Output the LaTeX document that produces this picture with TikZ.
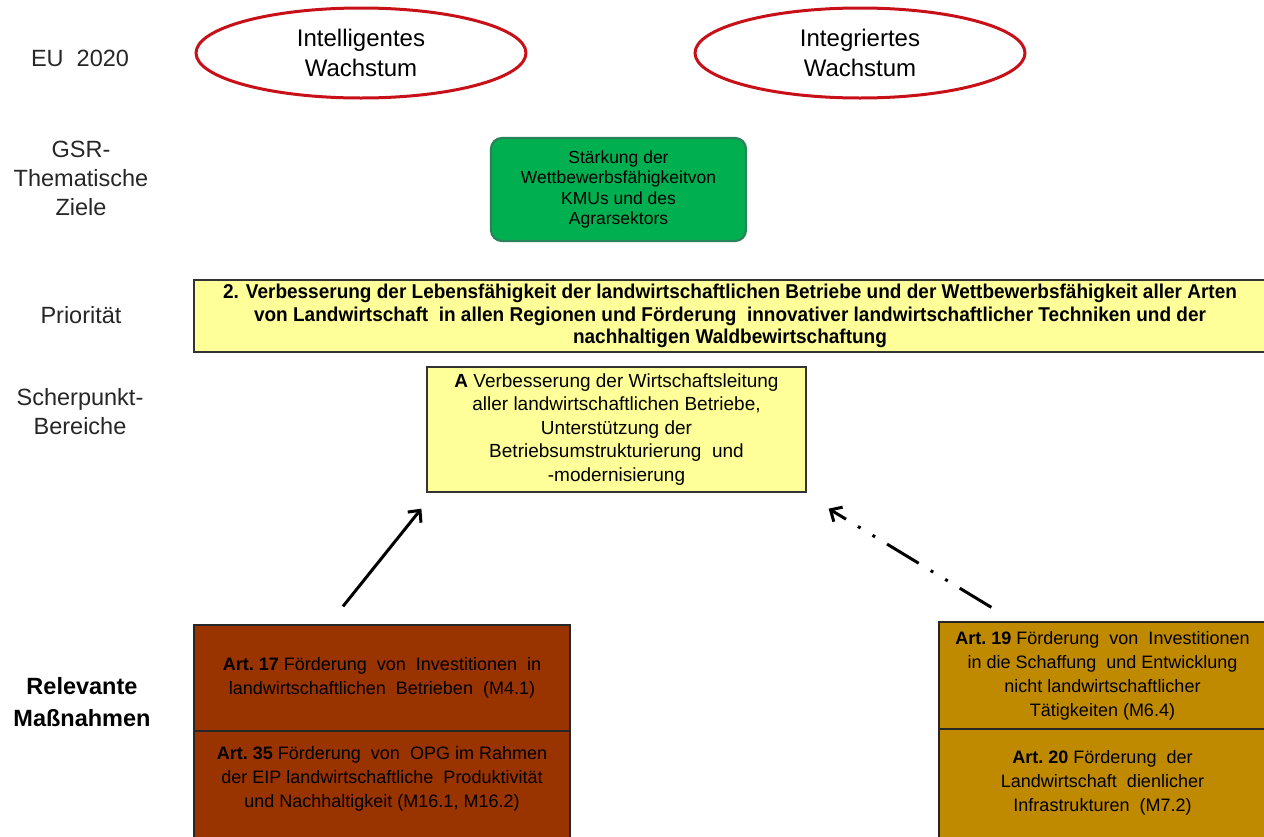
\documentclass[tikz,border=0pt]{standalone}
\usepackage{fontspec}
\setmainfont{Liberation Sans}
\newfontfamily\prioFont[FakeStretch=0.95]{Liberation Sans Bold}
\usetikzlibrary{shapes.geometric,arrows.meta,calc}
\definecolor{ellred}{RGB}{200,16,24}
\definecolor{gsrgreen}{RGB}{0,176,80}
\definecolor{gsrborder}{RGB}{40,130,90}
\definecolor{lightyel}{RGB}{255,255,153}
\definecolor{rust}{RGB}{153,51,0}
\definecolor{gold}{RGB}{191,137,0}
\tikzset{
  rowlabel/.style={align=center,font={\fontsize{23.5}{29}\selectfont},text=black!85},
  goal/.style={ellipse,draw=ellred,line width=3pt,minimum width=330pt,minimum height=90pt,inner sep=0pt,align=center,font={\fontsize{24}{30}\selectfont}},
  gsrbox/.style={rectangle,rounded corners=11pt,draw=gsrborder,line width=2.2pt,fill=gsrgreen,minimum width=255pt,minimum height=103pt,align=center,inner sep=0pt,font={\fontsize{17.5}{20.5}\selectfont}},
  yelbox/.style={rectangle,draw=black!80,line width=1.3pt,fill=lightyel,inner sep=0pt,align=center},
  measbox/.style={rectangle,draw=black!85,line width=1.3pt,inner sep=0pt,align=center,font={\fontsize{18}{24}\selectfont}},
  meastext/.style={align=center,font={\fontsize{18}{24}\selectfont}},
  arr/.style={line width=3pt,-{Straight Barb[length=9pt,width=17pt,line width=3pt]}},
}
\begin{document}
\begin{tikzpicture}[x=1pt,y=-1pt]
\useasboundingbox (0,0) rectangle (1264,836);
\clip (0,0) rectangle (1264,836);
% row labels
\node[rowlabel] (l1) at (80,58) {EU\ \ 2020};
\node[rowlabel] (l2) at (81,178) {GSR-\\Thematische\\Ziele};
\node[rowlabel] (l3) at (81,315) {Priorität};
\node[rowlabel] (l4) at (80,412) {Scherpunkt-\\Bereiche};
\node[rowlabel,font={\fontsize{23.5}{32}\selectfont\bfseries},text=black] (l5) at (82,702) {Relevante\\Maßnahmen};
% EU 2020 goals
\node[goal] (g1) at (361,53) {Intelligentes\\Wachstum};
\node[goal] (g2) at (860,53) {Integriertes\\Wachstum};
% thematic objective
\node[gsrbox] (gsr) at (618.5,189.5) {Stärkung der\\Wettbewerbsfähigkeitvon\\KMUs und des\\Agrarsektors};
% priority
\node[yelbox,minimum width=1072pt,minimum height=72pt,font={\prioFont\fontsize{20}{22.5}\selectfont}] (prio) at (730,316)
 {2. Verbesserung\ der Lebensfähigkeit der landwirtschaftlichen Betriebe und der Wettbewerbsfähigkeit aller Arten\\
  von Landwirtschaft\ \ in allen Regionen und Förderung\ \ innovativer landwirtschaftlicher Techniken und der\\
  nachhaltigen Waldbewirtschaftung};
% focus area
\node[yelbox,minimum width=379pt,minimum height=125pt,font={\fontsize{19}{23.5}\selectfont}] (fa) at (616.5,429.5)
 {\textbf{A} Verbesserung\ der Wirtschaftsleitung\\aller landwirtschaftlichen\ Betriebe,\\Unterstützung der\\Betriebsumstrukturierung\ \ und\\-modernisierung};
% measures
\node[measbox,fill=rust,minimum width=376pt,minimum height=106pt] (m17) at (382,678)
 {\textbf{Art.\ 17} Förderung\ \ von\ \ Investitionen\ \ in\\landwirtschaftlichen\ \ Betrieben\ \ (M4.1)};
\node[measbox,fill=rust,minimum width=376pt,minimum height=110pt,anchor=north] (m35) at (382,731) {};
\node[meastext] (t35) at (382,779)
 {\textbf{Art.\ 35} Förderung\ \ von\ \ OPG im Rahmen\\der EIP\ landwirtschaftliche\ \ Produktivität\\und\ Nachhaltigkeit\ (M16.1,\ M16.2)};
\node[measbox,fill=gold,minimum width=327pt,minimum height=107pt] (m19) at (1102.5,675.5)
 {\textbf{Art.\ 19} Förderung\ \ von\ \ Investitionen\\in die Schaffung\ \ und\ Entwicklung\\nicht landwirtschaftlicher\\Tätigkeiten\ (M6.4)};
\node[measbox,fill=gold,minimum width=327pt,minimum height=112pt,anchor=north] (m20) at (1102.5,729) {};
\node[meastext] (t20) at (1102.5,783)
 {\textbf{Art.\ 20} Förderung\ \ der\\Landwirtschaft\ \ dienlicher\\Infrastrukturen\ \ (M7.2)};
% arrows
\coordinate (a1s) at ($(m17.north)+(-39,-18)$);
\coordinate (a1e) at ($(fa.south west)+(-5,16)$);
\coordinate (a2s) at ($(m19.north west)+(53,-14)$);
\coordinate (a2e) at ($(fa.south east)+(22,16)$);
\draw[arr] (a1s) -- (a1e);
\draw[arr,dash pattern=on 37pt off 14pt on 3pt off 14pt on 3pt off 14pt] (a2s) -- (a2e);
\end{tikzpicture}
\end{document}
